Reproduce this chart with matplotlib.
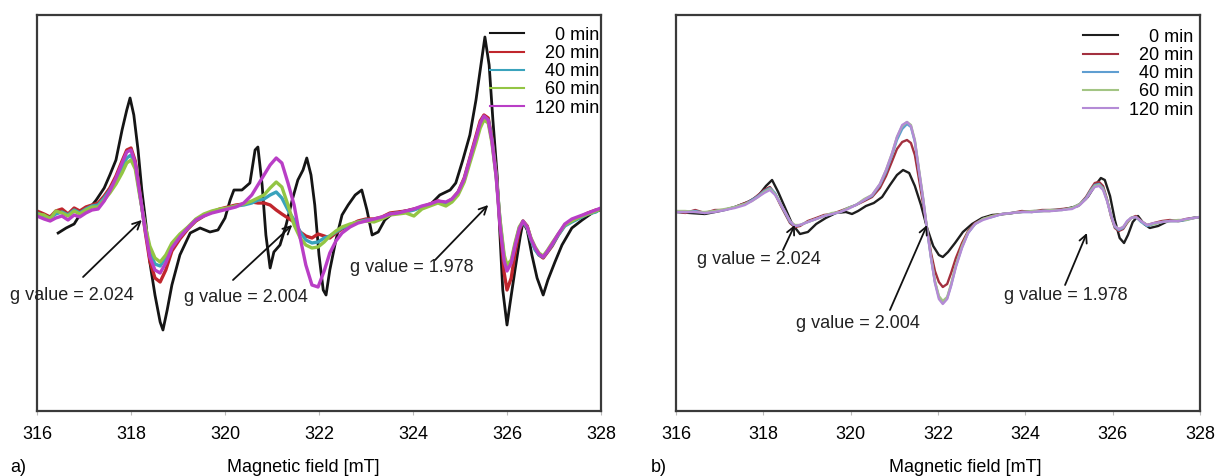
import matplotlib
matplotlib.use("Agg")
import matplotlib.pyplot as plt

plt.rcParams["font.family"] = ["Liberation Sans", "DejaVu Sans"]

# ---- panel a) : field [mT] and signal (arbitrary units) ----
field_a0 = [316.45, 316.62, 316.79, 316.91, 317.09, 317.26, 317.43, 317.55, 317.68, 317.81,
            317.91, 317.98, 318.06, 318.15, 318.23, 318.32, 318.40, 318.51, 318.62, 318.68,
            318.77, 318.87, 319.04, 319.26, 319.47, 319.68, 319.85, 320.00, 320.11, 320.19,
            320.36, 320.53, 320.64, 320.70, 320.79, 320.87, 320.96, 321.04, 321.17, 321.30,
            321.43, 321.55, 321.66, 321.74, 321.83, 321.91, 322.00, 322.09, 322.15, 322.23,
            322.36, 322.49, 322.62, 322.77, 322.91, 323.02, 323.13, 323.26, 323.40, 323.55,
            323.72, 323.94, 324.15, 324.36, 324.57, 324.79, 324.91, 325.06, 325.21, 325.34,
            325.43, 325.53, 325.62, 325.70, 325.79, 325.85, 325.91, 326.00, 326.06, 326.17,
            326.28, 326.34, 326.43, 326.53, 326.64, 326.77, 326.87, 327.02, 327.17, 327.38,
            327.60, 327.81, 327.98]
sig_a0 = [-20, -15, -11, -2, 3, 13, 25, 38, 53, 83,
          103, 115, 98, 63, 23, -12, -49, -82, -109, -117,
          -97, -72, -42, -20, -15, -19, -17, -5, 13, 23,
          23, 30, 63, 66, 28, -22, -55, -39, -32, -12,
          13, 33, 43, 55, 38, 8, -42, -77, -82, -57,
          -27, -2, 8, 18, 23, 3, -22, -19, -7, -1,
          1, 3, 5, 8, 18, 23, 30, 53, 78, 113,
          143, 176, 148, 93, 38, -22, -77, -112, -92, -57,
          -24, -9, -17, -42, -65, -82, -67, -49, -32, -15,
          -7, 0, 3]

field_a = [316.00, 316.15, 316.28, 316.40, 316.53, 316.66, 316.79, 316.91, 317.04, 317.17,
           317.30, 317.43, 317.55, 317.68, 317.81, 317.91, 318.00, 318.09, 318.19, 318.30,
           318.40, 318.51, 318.62, 318.74, 318.87, 319.04, 319.21, 319.38, 319.55, 319.72,
           319.89, 320.06, 320.23, 320.40, 320.57, 320.70, 320.83, 320.96, 321.09, 321.21,
           321.34, 321.47, 321.60, 321.72, 321.85, 321.98, 322.11, 322.23, 322.36, 322.49,
           322.66, 322.83, 323.00, 323.17, 323.34, 323.51, 323.68, 323.85, 324.02, 324.19,
           324.36, 324.53, 324.70, 324.83, 324.96, 325.09, 325.21, 325.34, 325.43, 325.51,
           325.60, 325.68, 325.77, 325.85, 325.94, 326.00, 326.09, 326.17, 326.26, 326.34,
           326.43, 326.51, 326.60, 326.68, 326.77, 326.85, 326.96, 327.09, 327.23, 327.38,
           327.55, 327.72, 327.89, 328.00]
sig_a20 = [2, -1, -4, 2, 4, -1, 5, 2, 6, 8,
           10, 17, 25, 37, 52, 63, 65, 52, 20, -18,
           -48, -65, -69, -57, -38, -26, -16, -8, -3, 1,
           4, 6, 8, 9, 11, 10, 10, 8, 3, -1,
           -5, -9, -19, -23, -25, -21, -23, -25, -20, -16,
           -12, -8, -6, -6, -4, 0, 1, 2, 4, 6,
           9, 12, 10, 14, 21, 35, 55, 77, 92, 98,
           95, 75, 40, -10, -60, -77, -65, -40, -18, -8,
           -13, -26, -36, -42, -45, -40, -33, -22, -12, -8,
           -4, 0, 3, 4]
sig_a40 = [0, -3, -5, -1, 1, -2, 3, 0, 4, 7,
           8, 15, 23, 33, 45, 55, 58, 48, 18, -15,
           -39, -51, -53, -45, -32, -23, -15, -7, -2, 1,
           3, 5, 7, 8, 10, 13, 14, 18, 21, 15,
           3, -7, -19, -27, -30, -29, -25, -23, -19, -15,
           -12, -9, -7, -7, -5, -1, 0, 1, 3, 6,
           8, 11, 9, 13, 20, 33, 53, 73, 88, 96,
           93, 73, 38, -7, -45, -55, -49, -32, -15, -9,
           -15, -27, -37, -42, -44, -39, -32, -22, -13, -9,
           -5, -1, 1, 5]
sig_a60 = [-1, -2, -6, 2, 0, -3, 2, -1, 3, 6,
           6, 13, 20, 29, 40, 50, 53, 44, 16, -12,
           -33, -45, -49, -42, -30, -21, -14, -6, -1, 2,
           4, 5, 7, 9, 12, 15, 18, 25, 31, 26,
           8, -12, -25, -32, -35, -34, -29, -23, -18, -14,
           -11, -9, -8, -9, -6, -2, -1, 0, -3, 4,
           7, 10, 7, 11, 18, 31, 50, 70, 85, 93,
           90, 70, 36, -6, -42, -52, -47, -30, -14, -8,
           -14, -25, -34, -40, -43, -38, -30, -21, -12, -8,
           -4, -1, 2, 4]
sig_a120 = [-3, -6, -8, -5, -3, -7, -2, -4, 0, 3,
            4, 12, 22, 35, 50, 61, 63, 50, 19, -16,
            -44, -57, -60, -50, -35, -24, -15, -7, -3, 0,
            2, 4, 6, 10, 18, 28, 38, 48, 55, 50,
            30, 8, -25, -52, -72, -74, -58, -40, -28, -20,
            -14, -10, -8, -6, -4, -1, 0, 2, 4, 7,
            9, 12, 11, 14, 21, 34, 54, 75, 90, 97,
            93, 72, 36, -12, -48, -58, -50, -33, -16, -8,
            -14, -26, -35, -41, -44, -39, -31, -21, -11, -6,
            -3, 0, 3, 5]

# ---- panel b) ----
field_b0 = [316.00, 316.32, 316.66, 317.01, 317.35, 317.65, 317.88, 318.06, 318.20, 318.34,
            318.50, 318.66, 318.84, 319.02, 319.21, 319.43, 319.66, 319.89, 320.03, 320.17,
            320.35, 320.53, 320.72, 320.90, 321.06, 321.20, 321.34, 321.47, 321.61, 321.75,
            321.89, 322.02, 322.11, 322.23, 322.39, 322.57, 322.78, 323.01, 323.24, 323.53,
            323.88, 324.22, 324.56, 324.91, 325.21, 325.43, 325.59, 325.73, 325.82, 325.94,
            326.05, 326.16, 326.26, 326.35, 326.46, 326.58, 326.72, 326.85, 327.04, 327.27,
            327.54, 327.82, 328.00]
sig_b0 = [-1, -2, -3, 0, 4, 9, 15, 25, 31, 19,
          3, -13, -23, -21, -13, -7, -2, -1, -3, 0,
          5, 8, 14, 26, 36, 41, 38, 25, 6, -17,
          -35, -44, -46, -41, -32, -21, -13, -7, -4, -3,
          -1, 0, 0, 2, 5, 14, 25, 33, 31, 15,
          -9, -27, -32, -24, -11, -5, -13, -17, -15, -10,
          -10, -7, -6]

field_b = [316.00, 316.21, 316.44, 316.66, 316.89, 317.12, 317.35, 317.58, 317.74, 317.88,
           318.02, 318.15, 318.27, 318.38, 318.50, 318.61, 318.72, 318.84, 319.02, 319.21,
           319.39, 319.57, 319.76, 319.94, 320.12, 320.31, 320.49, 320.67, 320.81, 320.95,
           321.06, 321.18, 321.29, 321.38, 321.47, 321.56, 321.66, 321.75, 321.84, 321.93,
           322.02, 322.11, 322.21, 322.30, 322.41, 322.55, 322.69, 322.85, 323.03, 323.24,
           323.47, 323.69, 323.92, 324.15, 324.38, 324.61, 324.84, 325.07, 325.25, 325.39,
           325.50, 325.59, 325.69, 325.78, 325.87, 325.96, 326.05, 326.14, 326.24, 326.33,
           326.42, 326.53, 326.65, 326.79, 326.95, 327.13, 327.31, 327.50, 327.68, 327.86,
           328.00]
sig_b20 = [0, -2, 1, -2, 1, 1, 4, 8, 11, 16,
           21, 24, 17, 7, -3, -12, -16, -15, -10, -7,
           -4, -3, 0, 3, 6, 10, 14, 23, 35, 50,
           62, 69, 71, 68, 56, 33, 7, -18, -42, -60,
           -71, -76, -73, -62, -47, -32, -20, -12, -8, -5,
           -3, -2, 0, -1, 1, 1, 2, 3, 7, 14,
           22, 28, 29, 25, 12, -5, -17, -20, -18, -12,
           -7, -5, -10, -14, -12, -10, -9, -10, -8, -7,
           -6]
sig_b40 = [0, -1, 0, -2, 0, 1, 4, 7, 11, 15,
           20, 23, 18, 8, -2, -11, -15, -14, -11, -8,
           -5, -3, -1, 3, 6, 11, 15, 26, 39, 56,
           71, 82, 87, 84, 69, 41, 11, -19, -47, -71,
           -86, -92, -87, -74, -55, -36, -22, -13, -8, -6,
           -3, -2, -1, -1, 0, 1, 1, 3, 7, 13,
           21, 26, 27, 23, 11, -4, -16, -19, -17, -11,
           -7, -6, -11, -15, -13, -11, -10, -10, -9, -7,
           -6]
sig_b60 = [0, 0, -1, -1, 0, 2, 4, 7, 10, 14,
           19, 22, 17, 8, -1, -10, -14, -14, -11, -8,
           -5, -2, -1, 3, 6, 12, 16, 27, 41, 58,
           74, 85, 89, 86, 71, 43, 13, -18, -46, -70,
           -85, -90, -86, -73, -54, -35, -21, -13, -8, -5,
           -3, -2, -1, 0, 0, 1, 1, 3, 7, 12,
           20, 25, 26, 22, 11, -4, -15, -18, -16, -11,
           -7, -6, -10, -14, -13, -11, -10, -9, -9, -7,
           -6]
sig_b120 = [-1, -1, -1, -2, -1, 1, 3, 6, 10, 14,
            18, 21, 16, 8, -1, -10, -15, -14, -11, -8,
            -5, -3, -1, 2, 6, 11, 16, 27, 41, 58,
            74, 86, 89, 85, 70, 42, 12, -19, -47, -72,
            -88, -93, -88, -75, -56, -37, -22, -13, -9, -6,
            -3, -2, -1, -1, 0, 0, 1, 2, 6, 12,
            19, 24, 25, 21, 10, -4, -15, -18, -16, -10,
            -7, -6, -10, -14, -12, -11, -10, -10, -8, -7,
            -6]

labels = ["\u2007\u20070 min", "\u200720 min", "\u200740 min", "\u200760 min", "120 min"]
colors_a = ["#151515", "#c0262d", "#3aa3bc", "#93c544", "#b93ec6"]
colors_b = ["#1e1e1e", "#a3303f", "#5f9ed1", "#a3c584", "#b48bd6"]

# g value annotations: (text, text pos, arrow tail, arrow head) in data units
notes_a = [("g value = 2.024", (316.74, -82), (316.98, -64), (318.23, -7)),
           ("g value = 2.004", (320.45, -84), (320.17, -67), (321.43, -12)),
           ("g value = 1.978", (323.98, -54), (324.47, -47), (325.60, 8))]
notes_b = [("g value = 2.024", (317.90, -49), (318.45, -39), (318.72, -14)),
           ("g value = 2.004", (320.17, -112), (320.90, -99), (321.75, -14)),
           ("g value = 1.978", (324.93, -84), (324.91, -74), (325.41, -22))]


def style_axis(ax, ylim):
    ax.set_xlim(316, 328)
    ax.set_ylim(*ylim)
    ax.set_xticks(range(316, 329, 2))
    ax.set_yticks([])
    ax.tick_params(axis="x", length=3, color="#bbbbbb", pad=8, labelsize=13)
    for s in ax.spines.values():
        s.set_color("#3a3a3a")
        s.set_linewidth(1.6)


def add_notes(ax, notes):
    for txt, tpos, tail, head in notes:
        ax.annotate("", xy=head, xytext=tail, annotation_clip=False,
                    arrowprops=dict(arrowstyle="->", color="#111111", lw=1.3,
                                    mutation_scale=14, shrinkA=0, shrinkB=0))
        ax.text(tpos[0], tpos[1], txt, ha="center", va="center", fontsize=13,
                color="#222222", clip_on=False)


fig = plt.figure(figsize=(12.25, 4.76), dpi=100)
axa = fig.add_axes([37 / 1225, 65 / 476, 564 / 1225, 396 / 476])
axb = fig.add_axes([676 / 1225, 65 / 476, 524 / 1225, 396 / 476])

axa.plot(field_a0, sig_a0, color=colors_a[0], lw=2.0, label=labels[0])
for sig, c, lab in zip([sig_a20, sig_a40, sig_a60, sig_a120], colors_a[1:], labels[1:]):
    axa.plot(field_a, sig, color=c, lw=2.4, label=lab)

axb.plot(field_b0, sig_b0, color=colors_b[0], lw=1.7, label=labels[0])
for sig, c, lab in zip([sig_b20, sig_b40, sig_b60, sig_b120], colors_b[1:], labels[1:]):
    axb.plot(field_b, sig, color=c, lw=1.7, label=lab)

style_axis(axa, (-198, 198))
style_axis(axb, (-200, 196))
add_notes(axa, notes_a)
add_notes(axb, notes_b)

for ax, anchor in [(axa, (1.0, 0.975)), (axb, (0.99, 0.97))]:
    leg = ax.legend(loc="upper right", bbox_to_anchor=anchor, frameon=False,
                    fontsize=13, handlelength=1.9, handletextpad=0.6,
                    labelspacing=0.07, borderpad=0.1, borderaxespad=0)
    for ln in leg.get_lines():
        ln.set_linewidth(1.5)

fig.text(10 / 1225, 8 / 476, "a)", fontsize=13, ha="left", va="center")
fig.text(651 / 1225, 8 / 476, "b)", fontsize=13, ha="left", va="center")
fig.text(303 / 1225, 9 / 476, "Magnetic field [mT]", fontsize=13, ha="center", va="center")
fig.text(965 / 1225, 9 / 476, "Magnetic field [mT]", fontsize=13, ha="center", va="center")

fig.savefig("out.png", dpi=100)
plt.close(fig)
